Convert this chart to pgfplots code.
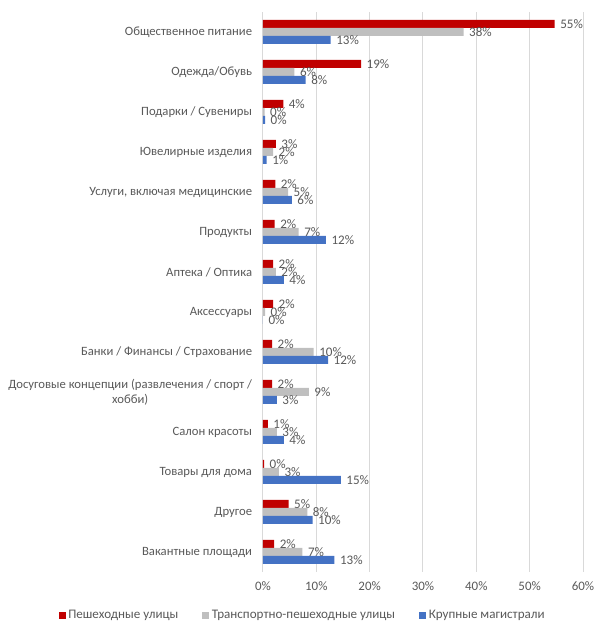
\documentclass[border=0pt]{standalone}
\usepackage{pgfplots}
\pgfplotsset{compat=1.18}
\usepackage{pgfplotstable}
\usepackage{fontspec}
\setmainfont{Carlito}
\definecolor{cred}{HTML}{C00000}
\definecolor{cgrey}{HTML}{BFBFBF}
\definecolor{cblue}{HTML}{4472C4}
\definecolor{txt}{HTML}{595959}
\definecolor{grd}{HTML}{D9D9D9}

\pgfplotstableread{
y x lab
13 54.7 55
12 18.4 19
11 3.8 4
10 2.4 3
9 2.3 2
8 2.2 2
7 1.9 2
6 1.9 2
5 1.7 2
4 1.7 2
3 0.9 1
2 0.2 0
1 4.8 5
0 2.1 2
}\redtab
\pgfplotstableread{
y x lab
13 37.6 38
12 5.9 6
11 0.3 0
10 1.9 2
9 4.7 5
8 6.7 7
7 2.4 2
6 0.4 0
5 9.5 10
4 8.6 9
3 2.6 3
2 3.0 3
1 8.3 8
0 7.4 7
}\greytab
\pgfplotstableread{
y x lab
13 12.7 13
12 8.0 8
11 0.4 0
10 0.7 1
9 5.4 6
8 11.8 12
7 3.9 4
6 0.0 0
5 12.2 12
4 2.6 3
3 3.9 4
2 14.6 15
1 9.3 10
0 13.4 13
}\bluetab

\begin{document}
\begin{tikzpicture}
\begin{axis}[
  at={(0,0)}, anchor=south west,
  scale only axis,
  width=240pt, height=420pt,
  xbar, bar width=6pt,
  xmin=0, xmax=60, ymin=-0.5, ymax=13.5,
  xtick={0,10,20,30,40,50,60},
  xticklabels={0\%,10\%,20\%,30\%,40\%,50\%,60\%},
  ytick={0,...,13},
  yticklabels={
    {Вакантные площади},
    {Другое},
    {Товары для дома},
    {Салон красоты},
    {Досуговые концепции (развлечения / спорт /\\хобби)},
    {Банки / Финансы / Страхование},
    {Аксессуары},
    {Аптека / Оптика},
    {Продукты},
    {Услуги, включая медицинские},
    {Ювелирные изделия},
    {Подарки / Сувениры},
    {Одежда/Обувь},
    {Общественное питание}},
  yticklabel style={align=center, font=\fontsize{9.5}{11}\selectfont, text=txt, inner sep=0pt, xshift=-8pt},
  xticklabel style={font=\fontsize{9.7}{11}\selectfont, text=txt, yshift=-4pt},
  major tick length=0pt,
  axis line style={draw=none},
  xmajorgrids, grid style={grd, line width=0.75pt},
  nodes near coords,
  point meta=explicit symbolic,
  nodes near coords={\pgfplotspointmeta\%},
  every node near coord/.append style={anchor=west, font=\fontsize{9.8}{11}\selectfont, text=txt, inner sep=1pt, xshift=3pt},
  legend columns=3,
  legend style={at={(0.125,-0.077)}, anchor=center, draw=none, fill=none,
    font=\fontsize{9.8}{11}\selectfont, text=txt,
    /tikz/every even column/.append style={column sep=16pt}},
  legend image code/.code={\fill (0pt,-2.6pt) rectangle (5.2pt,2.6pt);},
]
\addplot[fill=cred, draw=none, bar shift=6pt] table[x=x, y=y, meta=lab] {\redtab};
\addlegendentry{Пешеходные улицы}
\addplot[fill=cgrey, draw=none, bar shift=0pt] table[x=x, y=y, meta=lab] {\greytab};
\addlegendentry{Транспортно-пешеходные улицы}
\addplot[fill=cblue, draw=none, bar shift=-6pt] table[x=x, y=y, meta=lab] {\bluetab};
\addlegendentry{Крупные магистрали}
\end{axis}
\pgfresetboundingbox
\useasboundingbox (-197.25pt,-43.5pt) rectangle (252.75pt,429pt);
\end{tikzpicture}
\end{document}
